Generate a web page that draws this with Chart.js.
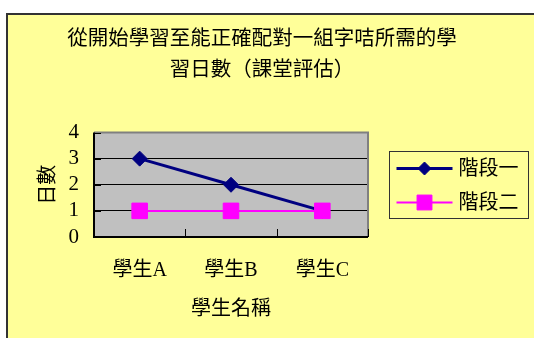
<!DOCTYPE html>
<html>
<head>
<meta charset="utf-8">
<script src="https://cdn.jsdelivr.net/npm/chart.js@4/dist/chart.umd.min.js"></script>
<style>
html, body { margin: 0; padding: 0; background: #fff; }
canvas { display: block; }
</style>
</head>
<body>
<canvas id="chart" width="534" height="338"></canvas>
<script>
var titleLines = ['從開始學習至能正確配對一組字咭所需的學', '習日數（課堂評估）'];
var students = ['學生A', '學生B', '學生C'];
var seriesNames = ['階段一', '階段二'];
var stage1 = [3, 2, 1];
var stage2 = [1, 1, 1];
var yTicks = [0, 1, 2, 3, 4];
var xTitle = '學生名稱';
var yTitle = '日數';

var fontFamily = '"Liberation Serif", "Noto Sans CJK TC", serif';
Chart.defaults.color = '#000';
Chart.defaults.font.family = fontFamily;

// yellow frame, grey plot area, borders and the little inside ticks
const framePlugin = {
  id: 'frame',
  beforeDraw: (chart) => {
    const {ctx, chartArea: a} = chart;
    ctx.save();
    ctx.fillStyle = '#fff';
    ctx.fillRect(0, 0, chart.width, chart.height);
    ctx.fillStyle = '#FFFF99';
    ctx.fillRect(7, 14, chart.width, chart.height);
    ctx.strokeStyle = '#333';
    ctx.lineWidth = 2;
    ctx.beginPath();
    ctx.moveTo(7, chart.height);
    ctx.lineTo(7, 14);
    ctx.lineTo(chart.width, 14);
    ctx.stroke();
    ctx.fillStyle = '#C0C0C0';
    ctx.fillRect(a.left, a.top, a.right - a.left, a.bottom - a.top);
    ctx.restore();
  },
  beforeDatasetsDraw: (chart) => {
    const {ctx, chartArea: a} = chart;
    const x = chart.scales.x, y = chart.scales.y;
    ctx.save();
    ctx.lineWidth = 2;
    ctx.strokeStyle = '#808080';
    ctx.beginPath();
    ctx.moveTo(a.left, a.top);
    ctx.lineTo(a.right, a.top);
    ctx.lineTo(a.right, a.bottom);
    ctx.stroke();
    ctx.strokeStyle = '#000';
    ctx.beginPath();
    ctx.moveTo(a.left, a.top);
    ctx.lineTo(a.left, a.bottom);
    ctx.lineTo(a.right, a.bottom);
    ctx.stroke();
    ctx.lineWidth = 1;
    ctx.beginPath();
    for (let i = 0; i < students.length; i++) {
      const px = Math.round(x.getPixelForValue(i + 0.5)) + 0.5;
      ctx.moveTo(px, a.bottom);
      ctx.lineTo(px, a.bottom - 8);
    }
    yTicks.forEach(v => {
      const py = Math.round(y.getPixelForValue(v)) + 0.5;
      ctx.moveTo(a.left, py);
      ctx.lineTo(a.left + 7, py);
    });
    ctx.stroke();
    ctx.restore();
  }
};

// boxed legend with line + marker samples
const legendPlugin = {
  id: 'boxLegend',
  afterDraw: (chart) => {
    const {ctx} = chart;
    const bx = 389.5, by = 151.5, bw = 139, bh = 67;
    ctx.save();
    ctx.fillStyle = '#FFFF99';
    ctx.fillRect(bx, by, bw, bh);
    ctx.strokeStyle = '#333';
    ctx.lineWidth = 1;
    ctx.strokeRect(bx, by, bw, bh);
    chart.data.datasets.forEach((ds, i) => {
      const ry = by + 17 + i * 34;
      ctx.strokeStyle = ds.borderColor;
      ctx.lineWidth = ds.borderWidth;
      ctx.beginPath();
      ctx.moveTo(bx + 7, ry);
      ctx.lineTo(bx + 63, ry);
      ctx.stroke();
      ctx.fillStyle = ds.backgroundColor;
      ctx.lineWidth = 1;
      Chart.helpers.drawPoint(ctx, {pointStyle: ds.pointStyle, radius: ds.legendRadius, rotation: 0, borderWidth: 1}, bx + 35, ry);
      ctx.fillStyle = '#000';
      ctx.font = '20px ' + fontFamily;
      ctx.textBaseline = 'middle';
      ctx.textAlign = 'left';
      ctx.fillText(ds.label, bx + 69, ry + 1);
    });
    ctx.restore();
  }
};

new Chart(document.getElementById('chart'), {
  type: 'line',
  data: {
    labels: students,
    datasets: [{
      label: seriesNames[0],
      data: stage1,
      borderColor: '#000080',
      backgroundColor: '#000080',
      borderWidth: 3,
      pointStyle: 'rectRot',
      pointRadius: 7.5,
      pointBorderWidth: 1,
      legendRadius: 6.5,
      tension: 0,
      order: 1
    }, {
      label: seriesNames[1],
      data: stage2,
      borderColor: '#FF00FF',
      backgroundColor: '#FF00FF',
      borderWidth: 2,
      pointStyle: 'rect',
      pointRadius: 11,
      pointBorderWidth: 1,
      legendRadius: 10.5,
      tension: 0,
      order: 0
    }]
  },
  options: {
    responsive: false,
    animation: false,
    devicePixelRatio: 1,
    layout: { padding: { left: 20, top: 14, right: 30, bottom: 0 } },
    plugins: {
      legend: { display: false },
      tooltip: { enabled: false },
      title: {
        display: true,
        text: titleLines,
        color: '#000',
        font: { size: 20.5, weight: 'normal', lineHeight: 1.5 },
        padding: { top: 10, bottom: 47 }
      }
    },
    scales: {
      x: {
        offset: true,
        grid: { display: false, drawTicks: false },
        border: { display: false },
        ticks: { font: { size: 20 }, padding: 22, maxRotation: 0 },
        title: { display: true, text: xTitle, font: { size: 20 }, padding: { top: 0, bottom: 16 } },
        afterFit: (s) => { s.height = 101; }
      },
      y: {
        min: yTicks[0],
        max: yTicks[yTicks.length - 1],
        grid: { color: '#000', lineWidth: 1, drawTicks: false },
        border: { display: false },
        ticks: { stepSize: 1, autoSkip: false, font: { size: 21 }, padding: 15 },
        title: { display: true, text: yTitle, font: { size: 20 }, padding: { top: 17, bottom: 0 } },
        afterFit: (s) => { s.width = 74; }
      },
      // empty axis that keeps room for the legend on the right
      room: {
        position: 'right',
        grid: { display: false, drawTicks: false },
        border: { display: false },
        ticks: { display: false },
        afterFit: (s) => { s.width = 136; }
      }
    }
  },
  plugins: [framePlugin, legendPlugin]
});
</script>
</body>
</html>
